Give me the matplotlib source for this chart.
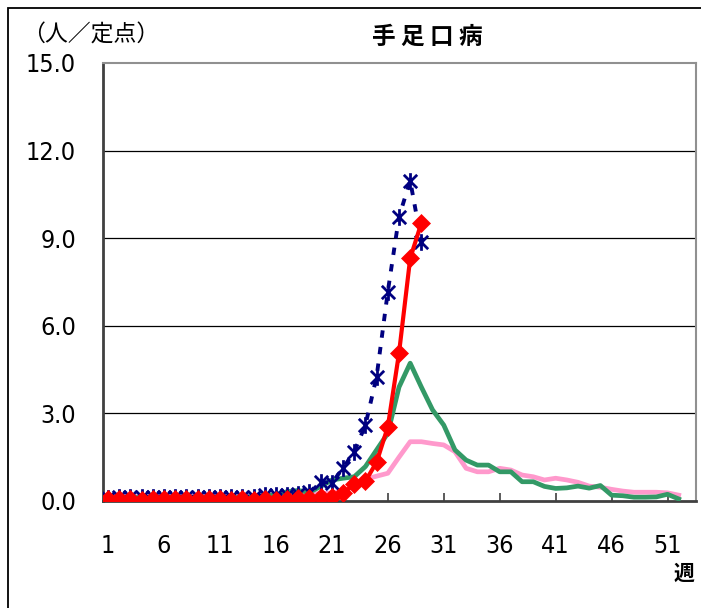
import matplotlib
matplotlib.use("Agg")
import matplotlib.pyplot as plt
from matplotlib.path import Path
from matplotlib.patches import Rectangle
from matplotlib import font_manager as fm

# ---- data ----
weeks_all = list(range(1, 54))
tick_weeks = [1, 6, 11, 16, 21, 26, 31, 36, 41, 46, 51]
y_ticks = [0.0, 3.0, 6.0, 9.0, 12.0, 15.0]

navy_weeks = list(range(1, 30))
navy_vals = [0.10, 0.12, 0.15, 0.12, 0.15, 0.15, 0.15, 0.15, 0.15, 0.15,
             0.15, 0.15, 0.15, 0.15, 0.20, 0.20, 0.22, 0.25, 0.30, 0.66,
             0.62, 1.13, 1.69, 2.60, 4.26, 7.17, 9.73, 10.97, 8.88]

red_weeks = list(range(1, 30))
red_vals = [0.08, 0.08, 0.08, 0.02, 0.08, 0.08, 0.08, 0.08, 0.08, 0.08,
            0.08, 0.02, 0.08, 0.05, 0.08, 0.03, 0.08, 0.10, 0.10, 0.12,
            0.12, 0.26, 0.58, 0.68, 1.33, 2.54, 5.06, 8.31, 9.52]

green_weeks = list(range(1, 53))
green_vals = [0.10, 0.12, 0.12, 0.12, 0.12, 0.12, 0.12, 0.12, 0.12, 0.12,
              0.12, 0.12, 0.12, 0.15, 0.18, 0.22, 0.32, 0.36, 0.30, 0.50,
              0.72, 0.78, 0.83, 1.18, 1.75, 2.32, 3.90, 4.72, 3.90, 3.12,
              2.60, 1.75, 1.40, 1.23, 1.23, 1.00, 1.00, 0.66, 0.66, 0.50,
              0.43, 0.45, 0.51, 0.44, 0.53, 0.20, 0.18, 0.13, 0.13, 0.14,
              0.23, 0.07]

pink_weeks = list(range(1, 53))
pink_vals = [0.15, 0.15, 0.15, 0.15, 0.15, 0.15, 0.15, 0.15, 0.15, 0.15,
             0.15, 0.15, 0.15, 0.15, 0.18, 0.20, 0.22, 0.22, 0.25, 0.25,
             0.28, 0.35, 0.50, 0.75, 0.85, 0.95, 1.50, 2.03, 2.03, 1.97,
             1.92, 1.69, 1.12, 1.00, 1.00, 1.12, 1.06, 0.89, 0.83, 0.72,
             0.78, 0.72, 0.64, 0.51, 0.47, 0.40, 0.34, 0.30, 0.30, 0.30,
             0.28, 0.20]

title = "手 足 口 病"
unit_label = "（人／定点）"
week_label = "週"

# ---- style ----
W, H, DPI = 701, 608, 100
names = {f.name for f in fm.fontManager.ttflist}
if "Liberation Sans Narrow" in names:
    num_font = ["Liberation Sans Narrow"]
    num_stretch = "normal"
else:
    num_font = ["DejaVu Sans"]
    num_stretch = "condensed"
jp_font = ["Noto Sans CJK JP", "DejaVu Sans"]

fig = plt.figure(figsize=(W / DPI, H / DPI), dpi=DPI)
fig.patch.set_facecolor("white")

left_px, right_px, top_px, bot_px = 102.5, 695.5, 63, 501
ax = fig.add_axes([left_px / W, 1 - bot_px / H, (right_px - left_px) / W, (bot_px - top_px) / H])

fig.patches.append(Rectangle((7.5 / W, -0.1), 1.2, 1 - 7.5 / H + 0.1,
                             transform=fig.transFigure, fill=False,
                             edgecolor="black", linewidth=1.3, clip_on=False))

ast = Path([(-1, -1), (1, 1), (-1, 1), (1, -1), (0, -1.25), (0, 1.25)],
           [Path.MOVETO, Path.LINETO, Path.MOVETO, Path.LINETO, Path.MOVETO, Path.LINETO])

ax.plot(pink_weeks, pink_vals, color="#FF99CC", lw=3.4, zorder=2)
ax.plot(green_weeks, green_vals, color="#339966", lw=3.4, zorder=3)
ax.plot(navy_weeks, navy_vals, color="#000080", lw=2.8, zorder=4,
        linestyle=(0, (1.9, 2.4)), marker=ast, markersize=12,
        markeredgewidth=2.0, markeredgecolor="#000080")
ax.plot(red_weeks, red_vals, color="#FF0000", lw=3.0, zorder=5,
        marker="D", markersize=9, markerfacecolor="#FF0000",
        markeredgecolor="#FF0000", markeredgewidth=0.5)

ax.set_xlim(0.5, 53.5)
ax.set_ylim(0, 15)
ax.set_yticks(y_ticks)
ax.set_yticklabels([f"{v:.1f}" for v in y_ticks], fontfamily=num_font,
                   fontstretch=num_stretch, fontsize=18)
ax.set_xticks(tick_weeks)
ax.set_xticklabels([str(w) for w in tick_weeks], fontfamily=num_font,
                   fontstretch=num_stretch, fontsize=18)
ax.tick_params(axis="y", length=0, pad=19)
ax.tick_params(axis="x", direction="in", length=6, width=1.2, color="#404040", pad=24)

for v in y_ticks[1:-1]:
    ax.axhline(v, color="black", lw=0.9, zorder=1)

for s in ["left", "bottom"]:
    ax.spines[s].set_color("#404040")
    ax.spines[s].set_linewidth(2.0)
for s in ["top", "right"]:
    ax.spines[s].set_color("#909090")
    ax.spines[s].set_linewidth(1.5)

fig.text(427 / W, 1 - 37 / H, title, fontfamily=jp_font, fontsize=17,
         fontweight="bold", ha="center", va="center")
fig.text(22 / W, 1 - 35 / H, unit_label, fontfamily=jp_font, fontsize=16.5,
         ha="left", va="center")
fig.text(684 / W, 1 - 573 / H, week_label, fontfamily=jp_font, fontsize=15,
         fontweight="bold", ha="center", va="center")

fig.savefig("out.png", dpi=DPI)
